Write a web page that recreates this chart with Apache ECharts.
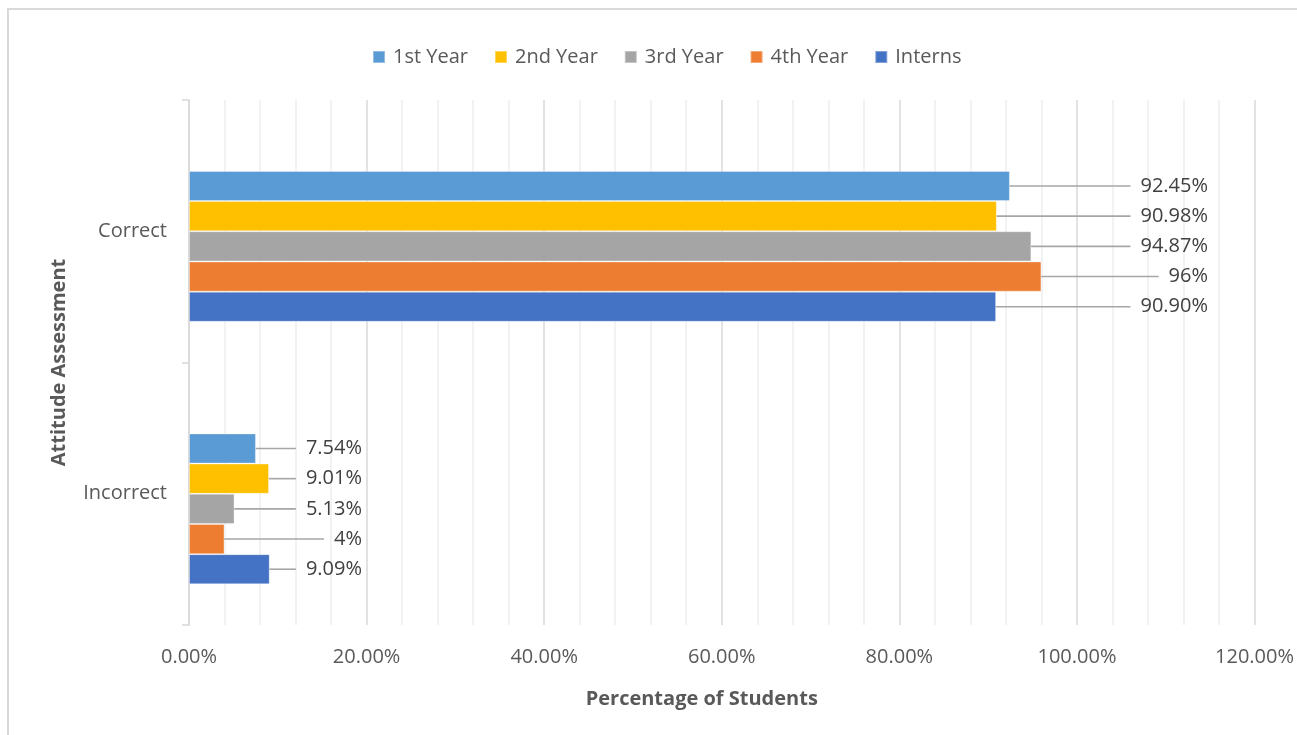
<!DOCTYPE html>
<html>
<head>
<meta charset="utf-8">
<style>
  html, body { margin: 0; padding: 0; background: #ffffff; }
  #chart { width: 1297px; height: 735px; }
</style>
<script src="https://cdn.jsdelivr.net/npm/echarts@6/dist/echarts.min.js"></script>
</head>
<body>
<div id="chart"></div>
<script>
// Attitude assessment responses by year of study
const categories = ['Correct', 'Incorrect'];
const seriesNames = ['1st Year', '2nd Year', '3rd Year', '4th Year', 'Interns'];
const seriesColors = ['#5B9BD5', '#FFC000', '#A5A5A5', '#ED7D31', '#4472C4'];

// Value labels as printed; bar lengths are parsed from the same strings
const correctLabels = ['92.45%', '90.98%', '94.87%', '96%', '90.90%'];
const incorrectLabels = ['7.54%', '9.01%', '5.13%', '4%', '9.09%'];

const xTicks = { min: 0, max: 120, interval: 20 };

const FONT = '"Open Sans", "Noto Sans", sans-serif';

const chart = echarts.init(document.getElementById('chart'), null, { renderer: 'canvas' });

// right edge for each category's value labels (pixel x)
const labelAnchor = [1208, 362];

const yearSeries = seriesNames.map((name, i) => {
  const texts = [correctLabels[i], incorrectLabels[i]];
  return {
    name: name,
    type: 'bar',
    barGap: '0%',
    barCategoryGap: '31%',
    itemStyle: { color: seriesColors[i], borderColor: 'rgba(255,255,255,0.35)', borderWidth: 1 },
    data: texts.map(t => ({ value: parseFloat(t), labelText: t })),
    label: {
      show: true,
      position: 'right',
      // leading en space leaves a small gap between leader line and text
      formatter: p => '\u2002' + p.data.labelText,
      color: '#404040',
      fontFamily: FONT,
      fontSize: 20
    },
    labelLine: {
      show: true,
      lineStyle: { color: '#a6a6a6', width: 1.6 }
    },
    labelLayout: function (p) {
      return {
        x: labelAnchor[p.dataIndex],
        y: p.rect.y + p.rect.height / 2,
        align: 'right',
        verticalAlign: 'middle'
      };
    },
    emphasis: { disabled: true },
    animation: false
  };
});

// empty leading slot: keeps the five bars sitting a little below each category label
const spacerSeries = {
  name: 'spacer',
  type: 'bar',
  barGap: '0%',
  barCategoryGap: '31%',
  data: ['-', '-'],
  silent: true,
  animation: false
};

chart.setOption({
  animation: false,
  textStyle: { fontFamily: FONT },
  graphic: [{
    type: 'rect',
    z: -10,
    shape: { x: 8, y: 9, width: 1400, height: 1000 },
    style: { fill: 'none', stroke: '#d9d9d9', lineWidth: 2 }
  }],
  legend: {
    top: 42,
    left: 367,
    icon: 'rect',
    itemWidth: 12,
    itemHeight: 12,
    itemGap: 26,
    textStyle: { color: '#595959', fontSize: 20, fontFamily: FONT, padding: [0, 0, 0, 3] },
    data: seriesNames
  },
  grid: { left: 189, right: 41, top: 100, bottom: 110, containLabel: false },
  xAxis: {
    type: 'value',
    min: xTicks.min,
    max: xTicks.max,
    interval: xTicks.interval,
    name: 'Percentage of Students',
    nameLocation: 'middle',
    nameGap: 64,
    nameTextStyle: { color: '#595959', fontWeight: 'bold', fontSize: 20, fontFamily: FONT, padding: [0, 40, 0, 0] },
    axisLine: { show: false },
    axisTick: { show: false },
    axisLabel: {
      color: '#595959',
      fontSize: 20,
      fontFamily: FONT,
      margin: 22,
      formatter: v => v.toFixed(2) + '%'
    },
    splitLine: { show: true, lineStyle: { color: '#d9d9d9', width: 1.5 } },
    minorTick: { show: false, splitNumber: 5 },
    minorSplitLine: { show: true, lineStyle: { color: '#eeeeee', width: 1.5 } }
  },
  yAxis: {
    type: 'category',
    inverse: true,
    data: categories,
    name: 'Attitude Assessment',
    nameLocation: 'middle',
    nameGap: 120,
    nameRotate: 90,
    nameTextStyle: { color: '#595959', fontWeight: 'bold', fontSize: 20, fontFamily: FONT },
    axisLine: { show: true, lineStyle: { color: '#d9d9d9', width: 1.5 } },
    axisTick: { show: true, length: 7, lineStyle: { color: '#d9d9d9', width: 1.5 } },
    axisLabel: { color: '#595959', fontSize: 20, fontFamily: FONT, margin: 22 },
    splitLine: { show: false }
  },
  series: [spacerSeries].concat(yearSeries)
});
</script>
</body>
</html>
